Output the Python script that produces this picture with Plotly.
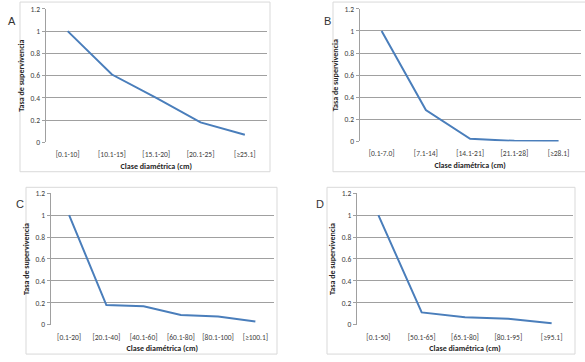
import plotly.graph_objects as go

W, H = 585, 362

cats_a = ["[0.1-10]", "[10.1-15]", "[15.1-20]", "[20.1-25]", "[≥25.1]"]
vals_a = [1.0, 0.61, 0.40, 0.18, 0.07]

cats_b = ["[0.1-7.0]", "[7.1-14]", "[14.1-21]", "[21.1-28]", "[≥28.1]"]
vals_b = [1.0, 0.285, 0.025, 0.006, 0.004]

cats_c = ["[0.1-20]", "[20.1-40]", "[40.1-60]", "[60.1-80]", "[80.1-100]", "[≥100.1]"]
vals_c = [1.0, 0.18, 0.17, 0.09, 0.075, 0.03]

cats_d = ["[0.1-50]", "[50.1-65]", "[65.1-80]", "[80.1-95]", "[≥95.1]"]
vals_d = [1.0, 0.113, 0.07, 0.055, 0.015]

panel_letters = ["A", "B", "C", "D"]
y_ticks = [0, 0.2, 0.4, 0.6, 0.8, 1, 1.2]
y_ticktext = ["0", "0.2", "0.4", "0.6", "0.8", "1", "1.2"]
x_title = "Clase diamétrica (cm)"
y_title = "Tasa de supervivencia"

FONT = "Carlito, 'Liberation Sans Narrow', 'Arial Narrow', 'Liberation Sans', sans-serif"
LINE = "#4a7ebb"
GRID = "#a0a0a0"
TXT = "#404040"

def px_x(p):
    return p / W

def px_y(p):
    return 1 - p / H

# plot-area pixel boxes (left, right, top, bottom)
boxes = [
    (45.5, 267.0, 5.0, 142.0),
    (359.5, 580.7, 5.0, 141.0),
    (50.5, 274.0, 194.0, 329.0),
    (356.7, 573.3, 194.0, 329.0),
]
frames = [
    (20, 270, -2, 172),
    (333, 586, -2, 172),
    (26, 277, 188, 359),
    (327, 575, 188, 359),
]
letter_pos = [(12, 17), (327, 17), (20, 205), (320, 205)]

data = [(cats_a, vals_a), (cats_b, vals_b), (cats_c, vals_c), (cats_d, vals_d)]

fig = go.Figure()
shapes = []
annotations = []
for i, ((cats, vals), box, fr, lp, letter) in enumerate(zip(data, boxes, frames, letter_pos, panel_letters)):
    sfx = "" if i == 0 else str(i + 1)
    fig.add_trace(go.Scatter(
        x=cats, y=vals, mode="lines",
        line=dict(color=LINE, width=2),
        xaxis="x" + sfx, yaxis="y" + sfx, showlegend=False, hoverinfo="x+y",
    ))
    l, r, t, b = box
    fig.layout["xaxis" + sfx] = dict(
        domain=[px_x(l), px_x(r)], anchor="y" + sfx,
        type="category", range=[-0.5, len(cats) - 0.5],
        showgrid=False, zeroline=False, showline=False,
        ticks="outside", ticklen=5, tickcolor="rgba(0,0,0,0)",
        tickfont=dict(family=FONT, size=7.5, color=TXT),
        title=dict(text=x_title, font=dict(family=FONT, size=8, color="#262626", weight="bold"), standoff=4),
        fixedrange=True,
    )
    fig.layout["yaxis" + sfx] = dict(
        domain=[px_y(b), px_y(t)], anchor="x" + sfx,
        range=[0, 1.2], tickvals=y_ticks, ticktext=y_ticktext,
        showgrid=True, gridcolor=GRID, gridwidth=1,
        zeroline=False, showline=True, linecolor=GRID, linewidth=1,
        ticks="outside", ticklen=3, tickcolor=GRID,
        tickfont=dict(family=FONT, size=7.5, color=TXT),
        title=dict(text=y_title, font=dict(family=FONT, size=8, color="#262626", weight="bold"), standoff=4),
        fixedrange=True,
    )
    shapes.append(dict(type="rect", xref="paper", yref="paper",
                       x0=px_x(fr[0]), x1=px_x(fr[1]), y0=px_y(fr[3]), y1=px_y(fr[2]),
                       line=dict(color="#d9d9d9", width=1), layer="below"))
    annotations.append(dict(text=letter, xref="paper", yref="paper",
                            x=px_x(lp[0]), y=px_y(lp[1]), showarrow=False,
                            xanchor="center", yanchor="middle",
                            font=dict(family="'Liberation Sans', Arial, sans-serif", size=11, color="#333333")))

fig.update_layout(
    width=W, height=H, margin=dict(l=0, r=0, t=0, b=0),
    paper_bgcolor="white", plot_bgcolor="white",
    shapes=shapes, annotations=annotations,
)

fig.write_html("out.html", config={"displayModeBar": False},
               post_script="document.body.style.margin='0px';document.body.style.overflow='hidden';")
